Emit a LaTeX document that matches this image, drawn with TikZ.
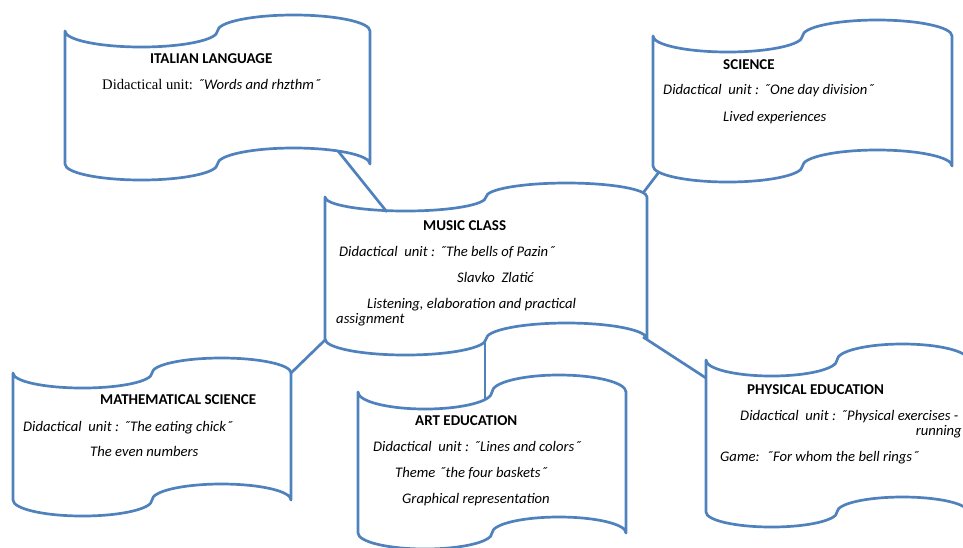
\documentclass[tikz,border=0pt]{standalone}
\usepackage{fontspec}
\setmainfont{Carlito}
\newfontfamily\timesfont{Liberation Serif}
\usetikzlibrary{calc}
\definecolor{tapeblue}{RGB}{79,129,189}
\tikzset{
  tapeline/.style={
    draw=tapeblue,
    line width=2.3pt,
    line join=round,
  },
  link/.style={
    draw=tapeblue,
    line width=2.3pt,
  },
  title/.style={
    anchor=base west,
    inner sep=0pt,
    font=\fontsize{12.8}{14}\selectfont\bfseries
  },
  body/.style={
    anchor=base west,
    inner sep=0pt,
    font=\fontsize{12.5}{14}\selectfont\itshape
  },
}
% left, right, top end, top wave, bottom end, bottom wave
\newcommand\tapeshape[6]{%
  \draw[tapeline] (#1,#3)
    arc[start angle=180, end angle=0, x radius={(#2-#1)/4}, y radius=#4]
    arc[start angle=180, end angle=360, x radius={(#2-#1)/4}, y radius=#4]
    -- (#2,#5)
    arc[start angle=0, end angle=-180, x radius={(#2-#1)/4}, y radius=#6]
    arc[start angle=0, end angle=180, x radius={(#2-#1)/4}, y radius=#6]
    -- cycle;}

\begin{document}
\begin{tikzpicture}[x=0.03cm, y=-0.03cm]
  \useasboundingbox (0,0) rectangle (963,547);
  \clip (0,0) rectangle (963,547);

  % the six tapes
  \tapeshape{65}{370}{31}{16}{164}{16}
  \tapeshape{653}{952}{36}{16}{166}{16}
  \tapeshape{325}{647}{197}{14}{339}{16}
  \tapeshape{13}{291}{373}{15}{500}{16}
  \tapeshape{358}{626}{392}{17}{533}{16}
  \tapeshape{706}{968}{360}{16}{512}{15}

  % where the links meet the tapes
  \coordinate (ital-s) at (338,151);
  \coordinate (music-n) at (387,212);
  \coordinate (sci-sw) at (659,172);
  \coordinate (music-ne) at (643,193);
  \coordinate (music-sw) at (325,340);
  \coordinate (math-ne) at (291,373);
  \coordinate (music-s) at (485,341);
  \coordinate (art-n) at (485,399);
  \coordinate (music-se) at (643,337);
  \coordinate (phys-w) at (706,378);

  \path[link] (ital-s) -- (music-n);
  \path[link] (sci-sw) -- (music-ne);
  \path[link] (music-sw) -- (math-ne);
  \path[link] (music-s) -- (art-n);
  \path[link] (music-se) -- (phys-w);

  % italian language
  \node[title] (ital) at (150,63) {ITALIAN LANGUAGE};
  \node[body] (ital-1) at (102,89) {{\upshape\timesfont Didactical unit:} ˝Words and rhzthm˝};

  % science
  \node[title] (sci) at (723,69) {SCIENCE};
  \node[body] (sci-1) at (663,94) {Didactical~~unit : ˝One day division˝};
  \node[body] (sci-2) at (723,121) {Lived experiences};

  % music class
  \node[title] (music) at (423,230) {MUSIC CLASS};
  \node[body] (music-1) at (339,256) {Didactical~~unit : ˝The bells of Pazin˝};
  \node[body] (music-2) at (457,282) {Slavko~~Zlatić};
  \node[body] (music-3) at (367,308) {Listening, elaboration and practical};
  \node[body] (music-4) at (336,323) {assignment};

  % mathematical science
  \node[title] (math) at (100,404) {MATHEMATICAL SCIENCE};
  \node[body] (math-1) at (23,431) {Didactical~~unit : ˝The eating chick˝};
  \node[body] (math-2) at (90,456) {The even numbers};

  % art education
  \node[title] (art) at (415,425) {ART EDUCATION};
  \node[body] (art-1) at (373,451) {Didactical~~unit : ˝Lines and colors˝};
  \node[body] (art-2) at (395,477) {Theme ˝the four baskets˝};
  \node[body] (art-3) at (402,503) {Graphical representation};

  % physical education
  \node[title] (phys) at (747,394) {PHYSICAL EDUCATION};
  \node[body] (phys-1) at (740,420) {Didactical~~unit : ˝Physical exercises -};
  \node[body, anchor=base east] (phys-2) at (962,435) {running};
  \node[body] (phys-3) at (720,461) {Game:~~˝For whom the bell rings˝};
\end{tikzpicture}
\end{document}
